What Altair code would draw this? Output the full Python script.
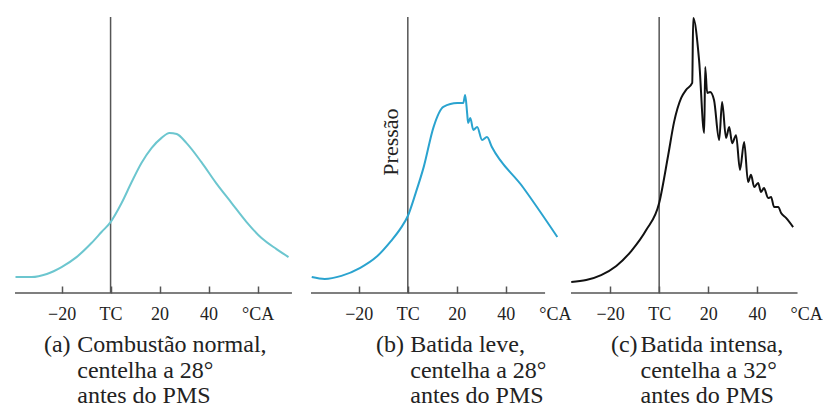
import altair as alt
import pandas as pd

# ---- data (crank angle in degrees, pressure in relative units 0-100) ----
xa = [-38.8, -32.2, -26, -20, -13.9, -7.8, -3.7, 0, 4.5, 8.6, 12.6, 16.7, 20.8, 24, 27, 31, 37, 43, 49.4, 55.5, 61.6, 67.7, 72.6]
ya = [5.8, 5.8, 6.9, 9.4, 13, 18.1, 22.1, 25.7, 32.6, 40.2, 47.1, 52.5, 56.2, 58, 57.6, 54.3, 47.5, 39.9, 32.6, 25.7, 19.9, 15.9, 13]

xb = [-39.2, -33.9, -27.1, -19.4, -12.9, -6.9, -2.8, 0, 3.2, 6.5, 10.5, 14.5, 20.2, 22.6, 23.4, 24.2, 24.6, 25.5, 26.7, 28.3, 30.3, 32.3, 34.3, 46.9, 61]
yb = [5.8, 5.1, 6.2, 9.1, 13.0, 18.8, 23.6, 27.9, 36.2, 45.7, 60.1, 67.4, 68.8, 68.8, 71.7, 65.2, 61.6, 63.4, 59.1, 60.1, 55.4, 56.5, 52.9, 38.4, 20.3]

xc = [-35.9, -29.8, -23.7, -17.5, -11.4, -5.3, 0, 3.7, 6.1, 9, 11, 13.5, 13.9, 16.3, 18.4, 18.8, 19.6, 20.8, 22.4, 24.5, 25.7, 27.3, 28.6, 29.8, 31.4, 33, 34.7, 36.3, 37.5, 38.8, 40.4, 41.6, 42.8, 44.5, 45.7, 46.9, 48.6, 49.8, 51.8, 54.7]
yc = [4.0, 4.7, 6.5, 9.8, 15.2, 22.8, 32.6, 50, 62, 70.7, 73.6, 76.1, 99.6, 84.4, 58, 81.9, 72.5, 72.8, 69.9, 55.4, 69.2, 56.2, 60.1, 54.3, 57.2, 44.6, 54.7, 40.2, 42.8, 38.4, 39.9, 36.6, 38, 34.4, 34.8, 31.2, 31.2, 29, 27.2, 23.9]

tick_values = [-20, 0, 20, 40, 60]

tags = ["(a)", "(b)", "(c)"]
caption_lines = [
    ["Combustão normal,", "centelha a 28°", "antes do PMS"],
    ["Batida leve,", "centelha a 28°", "antes do PMS"],
    ["Batida intensa,", "centelha a 32°", "antes do PMS"],
]
# caption anchor positions (degrees on each panel's own x scale, pressure units below the axis)
tag_x = [-27.2, -13.0, -19.7]
text_x = [-13.6, 1.0, -7.6]
caption_y = -21.4

SERIF = "Liberation Serif"
GRAY = "#555555"
INK = "#222222"
K = 2.45  # px per degree
H = 276


def panel(i, xs, ys, color, dom, axis_end, hide60, ylabel=False):
    df = pd.DataFrame({"x": xs, "y": ys})
    width = round((dom[1] - dom[0]) * K)
    tick_op = {"condition": {"test": "datum.value == 60", "value": 0}, "value": 1} if hide60 else 1
    xaxis = alt.Axis(
        values=tick_values,
        labelExpr="datum.value == 0 ? 'TC' : datum.value == 60 ? '°CA' : datum.label",
        domain=False, grid=False, title=None,
        tickSize=7, offset=-7, tickColor=GRAY, tickWidth=1.5, tickOpacity=tick_op,
        labelFont=SERIF, labelFontSize=18, labelColor=INK, labelPadding=12,
        labelOverlap=False, labelFlush=False,
    )
    xs_scale = alt.Scale(domain=dom, nice=False, zero=False)
    ys_scale = alt.Scale(domain=[0, 100], nice=False, zero=False)
    X = alt.X("x:Q", scale=xs_scale, axis=xaxis)
    Y = alt.Y("y:Q", scale=ys_scale, axis=None)

    line = alt.Chart(df).mark_line(color=color, strokeWidth=2, interpolate="monotone").encode(x=X, y=Y)
    vline = alt.Chart(pd.DataFrame({"x": [0]})).mark_rule(color=GRAY, strokeWidth=1.5).encode(x=X)
    hline = alt.Chart(pd.DataFrame({"x": [dom[0]], "x2": [axis_end], "y": [0]})).mark_rule(
        color=GRAY, strokeWidth=1.5).encode(x=X, x2="x2:Q", y=Y)

    tag = alt.Chart(pd.DataFrame({"x": [tag_x[i]], "y": [caption_y], "t": [tags[i]]})).mark_text(
        align="left", baseline="alphabetic", font=SERIF, fontSize=24, color=INK
    ).encode(x=X, y=Y, text="t:N")
    cap = alt.Chart(pd.DataFrame({"x": [text_x[i]], "y": [caption_y], "t": ["\n".join(caption_lines[i])]})).mark_text(
        align="left", baseline="alphabetic", font=SERIF, fontSize=24, color=INK,
        lineBreak="\n", lineHeight=25.5
    ).encode(x=X, y=Y, text="t:N")

    layers = [vline, hline, line, tag, cap]
    if ylabel:
        lab = alt.Chart(pd.DataFrame({"x": [0], "y": [54.7], "t": ["Pressão"]})).mark_text(
            angle=270, align="center", baseline="alphabetic", dy=-10,
            font=SERIF, fontSize=22, color=INK).encode(x=X, y=Y, text="t:N")
        layers.append(lab)
    return alt.layer(*layers).properties(width=width, height=H)


pa = panel(0, xa, ya, "#6cc6cf", [-39, 77.7], 74, False)
pb = panel(1, xb, yb, "#2aa3cf", [-39.5, 62.5], 56, True, ylabel=True)
pc = panel(2, xc, yc, "#111111", [-36, 62], 56.5, True)

chart = alt.hconcat(pa, pb, pc, spacing=10, bounds="flush").properties(
    padding={"left": 11, "top": 14, "right": 0, "bottom": 0},
    background="white",
).configure_view(stroke=None)

chart.save("out.html", embed_options={"renderer": "svg", "actions": False})
